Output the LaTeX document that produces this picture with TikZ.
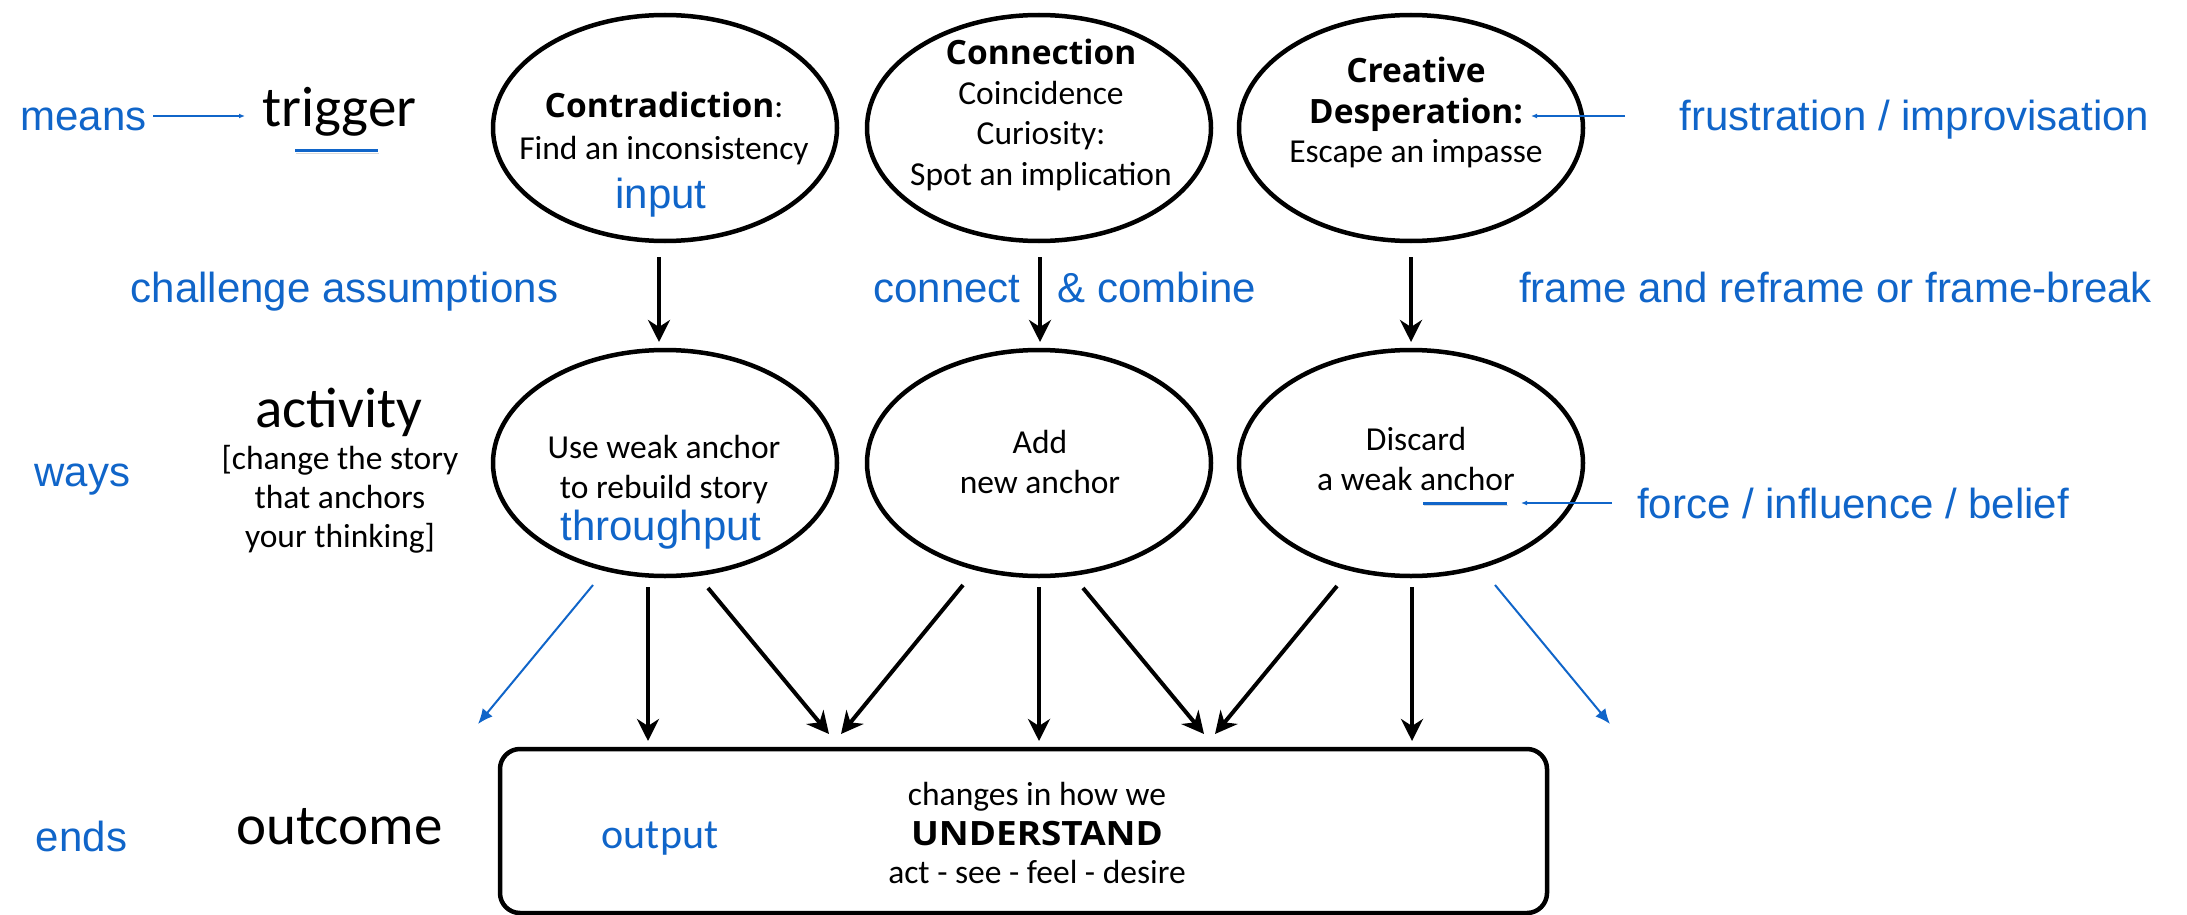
\documentclass[tikz,border=0pt]{standalone}
\usepackage{fontspec}
\setmainfont{Carlito}
\newfontfamily\bl{Liberation Sans}
\newfontfamily\hb{Open Sans}
\usetikzlibrary{shapes.geometric,arrows.meta}
\definecolor{myblue}{RGB}{16,101,201}
\newcommand{\hbold}[1]{{\hb\bfseries #1}}
\tikzset{
 el/.style={draw, ellipse, line width=4.5pt, minimum width=344pt, minimum height=226pt, inner sep=0pt},
 txt/.style={anchor=base, inner sep=0pt, font=\fontsize{33.5}{39}\selectfont},
 bigtxt/.style={anchor=base, inner sep=0pt, font=\fontsize{57}{64}\selectfont},
 lbl/.style={anchor=base, inner sep=0pt, text=myblue, font=\bl\fontsize{42}{48}\selectfont},
 arr/.style={line width=4pt, -{Stealth[length=22pt,width=22pt,inset=7pt]}},
 barr/.style={myblue, line width=2pt, -{Latex[length=15pt,width=13pt]}},
 tarr/.style={myblue, line width=1.3pt, -{Latex[length=6pt,width=5pt]}},
 uline/.style={myblue, line width=3pt},
 shadowline/.style={black!15, line width=1.5pt},
}
\begin{document}
\begin{tikzpicture}[x=1pt,y=-1pt]
\useasboundingbox (0,0) rectangle (2187,915);
% ellipses
\node[el] (e1) at (665,128) {};
\node[el] (e2) at (1039,128) {};
\node[el] (e3) at (1411,128) {};
\node[el] (e4) at (665,463) {};
\node[el] (e5) at (1039,463) {};
\node[el] (e6) at (1411,463) {};
% output box
\node[draw, line width=4.5pt, rounded corners=20pt, minimum width=1047pt, minimum height=164pt, inner sep=0pt] (box) at (1023.5,831) {};

% left column
\node[lbl] (means) at (83.5,131) {means};
\node[bigtxt] (trigger) at (339.5,127) {trigger};
\node[bigtxt] (activity) at (339,427) {activity};
\node[txt, align=center] (story) at (340,547) {[change the story\\that anchors\\your thinking]};
\node[lbl] (ways) at (82.5,486) {ways};
\node[bigtxt] (outcome) at (339.5,844) {outcome};
\node[lbl] (ends) at (81.5,851) {ends};

% ellipse texts
\node[txt] (t1a) at (664,118) {\hbold{Contradiction}:};
\node[txt] (t1b) at (664,160) {Find an inconsistency};
\node[lbl] (input) at (661,208) {input};
\node[txt] (t2a) at (1041,65) {\hbold{Connection}};
\node[txt] (t2b) at (1041,105) {Coincidence};
\node[txt] (t2c) at (1041,145) {Curiosity:};
\node[txt] (t2d) at (1041,185) {Spot an implication};
\node[txt] (t3a) at (1416,83) {\hbold{Creative}};
\node[txt] (t3b) at (1416,124) {\hbold{Desperation:}};
\node[txt] (t3c) at (1416,163) {Escape an impasse};
\node[txt] (t4a) at (664,458) {Use weak anchor};
\node[txt] (t4b) at (664,498) {to rebuild story};
\node[lbl] (thru) at (661,540) {throughput};
\node[txt] (t5a) at (1040,453) {Add};
\node[txt] (t5b) at (1040,493) {new anchor};
\node[txt] (t6a) at (1416,450) {Discard};
\node[txt] (t6b) at (1416,490) {a weak anchor};

% box texts
\node[txt] (b1) at (1037,805) {changes in how we};
\node[txt] (b2) at (1037,845) {\scalebox{1.1}[1]{\hbold{UNDERSTAND}}};
\node[txt] (b3) at (1037,883) {act - see - feel - desire};
\node[anchor=base, inner sep=0pt, text=myblue, font=\fontsize{42}{48}\selectfont] (output) at (660,848) {output};

% right / middle labels
\node[lbl] (frus) at (1914.5,131) {frustration / improvisation};
\node[lbl] (chal) at (344.5,302) {challenge assumptions};
\node[lbl] (conn) at (947,302) {connect};
\node[lbl] (comb) at (1157,302) {\&\ combine};
\node[lbl] (frame) at (1835.5,302) {frame and reframe or frame-break};
\node[lbl] (force) at (1853,518) {force / influence / belief};

% underlines
\draw[shadowline] (296,153.5) -- (379,153.5);
\draw[uline] (295,151) -- (378,151);
\draw[shadowline] (1424,505.5) -- (1508,505.5);
\draw[uline] (1423,503) -- (1507,503);

% thin blue pointer arrows
\coordinate (m0) at (153,116);
\coordinate (m1) at (245,116);
\draw[tarr] (m0) -- (m1);
\coordinate (f0) at (1625,116);
\coordinate (f1) at (1531,116);
\draw[tarr] (f0) -- (f1);
\coordinate (g0) at (1612,503);
\coordinate (g1) at (1521,503);
\draw[tarr] (g0) -- (g1);

% vertical arrows between rows
\coordinate (s1) at (659,257); \coordinate (d1) at (659,342);
\coordinate (s2) at (1040,257); \coordinate (d2) at (1040,342);
\coordinate (s3) at (1411,257); \coordinate (d3) at (1411,342);
\draw[arr] (s1) -- (d1);
\draw[arr] (s2) -- (d2);
\draw[arr] (s3) -- (d3);

% arrows to outcome
\coordinate (p1) at (648,587); \coordinate (q1) at (648,741);
\coordinate (p2) at (708,588); \coordinate (q2) at (829,734);
\coordinate (p3) at (963,585); \coordinate (q3) at (841,734);
\coordinate (p4) at (1039,587); \coordinate (q4) at (1039,741);
\coordinate (p5) at (1083,588); \coordinate (q5) at (1204,734);
\coordinate (p6) at (1337,586); \coordinate (q6) at (1215,734);
\coordinate (p7) at (1412,587); \coordinate (q7) at (1412,741);
\foreach \i in {1,...,7} {\draw[arr] (p\i) -- (q\i);}

% blue outward arrows
\coordinate (bl0) at (593,585); \coordinate (bl1) at (478,724);
\coordinate (br0) at (1495,585); \coordinate (br1) at (1610,724);
\draw[barr] (bl0) -- (bl1);
\draw[barr] (br0) -- (br1);
\end{tikzpicture}
\end{document}
